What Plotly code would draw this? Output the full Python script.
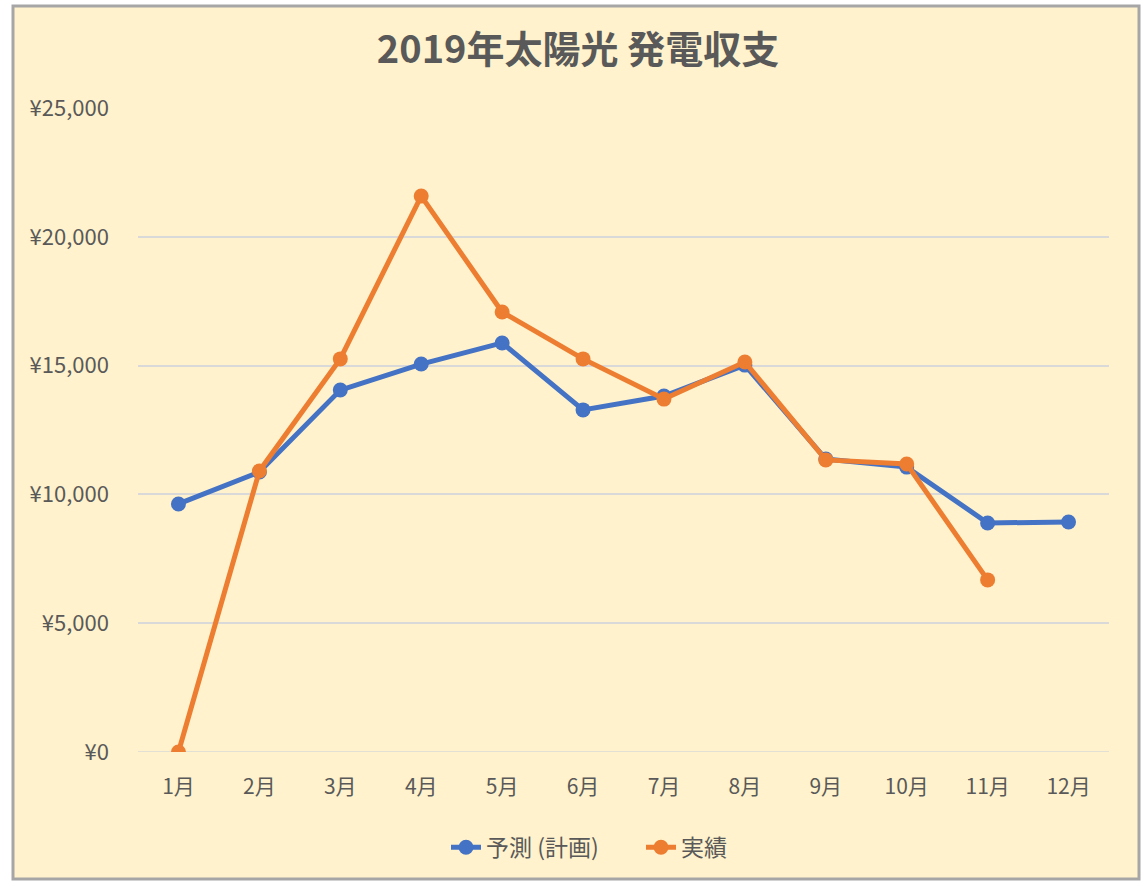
import plotly.graph_objects as go

months = ["1月", "2月", "3月", "4月", "5月", "6月", "7月", "8月", "9月", "10月", "11月", "12月"]
forecast = [9630, 10870, 14050, 15060, 15880, 13280, 13820, 15020, 11370, 11060, 8890, 8930]
actual = [0, 10910, 15260, 21580, 17080, 15260, 13700, 15140, 11340, 11180, 6680]
y_ticks = [0, 5000, 10000, 15000, 20000, 25000]
y_tick_text = ["¥0", "¥5,000", "¥10,000", "¥15,000", "¥20,000", "¥25,000"]

FONT = "Noto Sans CJK JP"
TXT = "#595959"

fig = go.Figure()
fig.add_trace(go.Scatter(
    x=months, y=forecast, name="予測 (計画)", mode="lines+markers",
    line=dict(color="#4472C4", width=5), marker=dict(size=15, color="#4472C4"),
))
fig.add_trace(go.Scatter(
    x=months[:len(actual)], y=actual, name="実績", mode="lines+markers",
    line=dict(color="#ED7D31", width=5), marker=dict(size=15, color="#ED7D31"),
))

fig.update_layout(
    width=1144, height=886,
    margin=dict(l=138, r=35, t=108, b=134),
    paper_bgcolor="white", plot_bgcolor="rgba(0,0,0,0)",
    font=dict(family=FONT, color=TXT, size=20),
    title=dict(text="<b>2019年太陽光 発電収支</b>", x=(576 + 2) / 1144, xref="container", xanchor="center",
               y=1 - 50 / 886, yanchor="middle", font=dict(size=38, color=TXT, family=FONT)),
    showlegend=True,
    legend=dict(orientation="h", x=(446 - 138) / 971, xanchor="left", y=-0.148, yanchor="middle",
                font=dict(size=23, color=TXT), bgcolor="rgba(0,0,0,0)", entrywidth=150),
    xaxis=dict(type="category", range=[-0.5, 11.5], showgrid=False, zeroline=False,
               showline=False, ticks="", tickfont=dict(size=21, color=TXT), ticklabelstandoff=20),
    yaxis=dict(range=[0, 25000], tickvals=y_ticks, ticktext=y_tick_text, showgrid=True,
               gridcolor="#D9D9D9", gridwidth=1.5, zeroline=False, showline=False, ticks="",
               tickfont=dict(size=22, color=TXT), ticklabelstandoff=28),
    shapes=[
        dict(type="rect", xref="paper", yref="paper", layer="below",
             x0=(13 - 138) / 971, x1=(1139 - 138) / 971,
             y0=(752 - 879) / 644, y1=(752 - 6) / 644,
             fillcolor="#FFF2CC", line=dict(color="#A6A6A6", width=3)),
        dict(type="line", xref="paper", yref="y", layer="below", x0=0, x1=1, y0=0, y1=0,
             line=dict(color="#D9D9D9", width=1.5)),
    ],
)

fig.write_html("out.html", config={"displayModeBar": False},
               post_script="document.body.style.margin='0';document.body.style.padding='0';")
